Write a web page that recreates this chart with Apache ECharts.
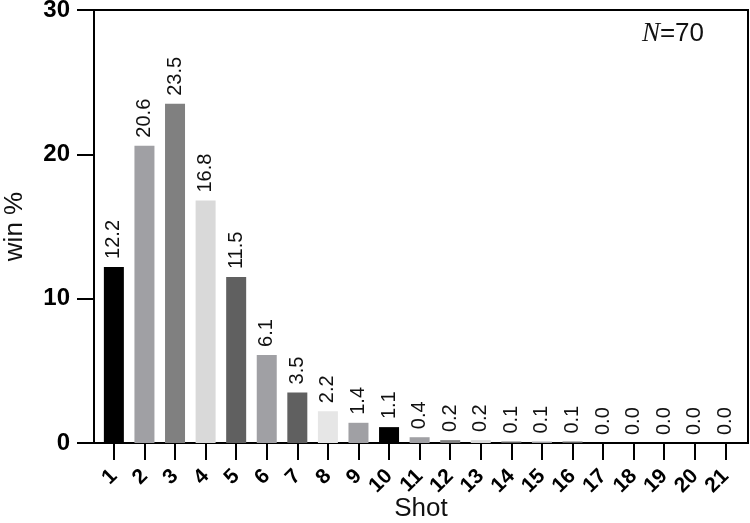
<!DOCTYPE html>
<html>
<head>
<meta charset="utf-8">
<script src="https://cdn.jsdelivr.net/npm/echarts@6/dist/echarts.min.js"></script>
<style>
  html, body { margin: 0; padding: 0; background: #fff; }
  #chart { width: 750px; height: 523px; }
</style>
</head>
<body>
<div id="chart"></div>
<script>
// shot number and win percentage per shot
const shots = [1, 2, 3, 4, 5, 6, 7, 8, 9, 10, 11, 12, 13, 14, 15, 16, 17, 18, 19, 20, 21];
const winPct = [12.2, 20.6, 23.5, 16.8, 11.5, 6.1, 3.5, 2.2, 1.4, 1.1, 0.4, 0.2, 0.2, 0.1, 0.1, 0.1, 0.0, 0.0, 0.0, 0.0, 0.0];
const barColors = ['#000000', '#a0a0a4', '#808080', '#d9d9d9', '#606060', '#a0a0a4', '#606060',
    '#e6e6e6', '#a0a0a4', '#000000', '#a0a0a4', '#808080', '#d9d9d9', '#606060', '#a0a0a4',
    '#606060', '#e6e6e6', '#a0a0a4', '#000000', '#a0a0a4', '#808080'];
const yTicks = [0, 10, 20, 30];

const font = 'Liberation Sans, Arial, sans-serif';

const elem = document.getElementById('chart');
const myChart = echarts.init(elem, null, { renderer: 'canvas' });

const barData = shots.map(function (s, i) {
    return { value: [s, winPct[i]], itemStyle: { color: barColors[i] } };
});

myChart.setOption({
    animation: false,
    backgroundColor: '#fff',
    title: {
        text: '{i|N}=70',
        right: 41,
        top: 15,
        textStyle: {
            fontFamily: font,
            fontSize: 26,
            fontWeight: 'normal',
            color: '#111',
            rich: {
                i: { fontFamily: 'Liberation Serif, Times New Roman, serif', fontStyle: 'italic', fontSize: 27, color: '#111' }
            }
        }
    },
    grid: {
        left: 94,
        right: 2,
        top: 10,
        bottom: 80,
        show: true,
        borderColor: '#000',
        borderWidth: 2,
        containLabel: false,
        outerBoundsMode: 'none'
    },
    xAxis: {
        type: 'value',
        min: 0.35,
        max: 21.74,
        name: 'Shot',
        nameLocation: 'middle',
        nameGap: 53,
        nameMoveOverlap: false,
        nameTextStyle: { fontFamily: font, fontSize: 26, color: '#111' },
        axisLine: { show: true, lineStyle: { color: '#000', width: 2 } },
        axisTick: { show: true, length: 17, lineStyle: { color: '#000', width: 2 }, customValues: shots },
        axisLabel: {
            customValues: shots,
            rotate: 45,
            margin: 30,
            fontFamily: font,
            fontSize: 21,
            fontWeight: 'bold',
            color: '#000'
        },
        splitLine: { show: false }
    },
    yAxis: {
        type: 'value',
        min: 0,
        max: 30,
        interval: 10,
        name: 'win %',
        nameLocation: 'middle',
        nameGap: 66,
        nameMoveOverlap: false,
        nameTextStyle: { fontFamily: font, fontSize: 26, color: '#111' },
        axisLine: { show: true, lineStyle: { color: '#000', width: 2 } },
        axisTick: { show: true, length: 17, lineStyle: { color: '#000', width: 2 } },
        axisLabel: {
            customValues: yTicks,
            margin: 24,
            fontFamily: font,
            fontSize: 24,
            fontWeight: 'bold',
            color: '#000'
        },
        splitLine: { show: false }
    },
    series: [{
        type: 'bar',
        barWidth: 20,
        data: barData,
        label: {
            show: true,
            position: 'top',
            rotate: 90,
            align: 'left',
            verticalAlign: 'middle',
            distance: 8,
            fontFamily: font,
            fontSize: 20,
            color: '#111',
            formatter: function (p) { return p.value[1].toFixed(1); }
        }
    }]
});

window.addEventListener('resize', function () {
    myChart.resize();
});
</script>
</body>
</html>
